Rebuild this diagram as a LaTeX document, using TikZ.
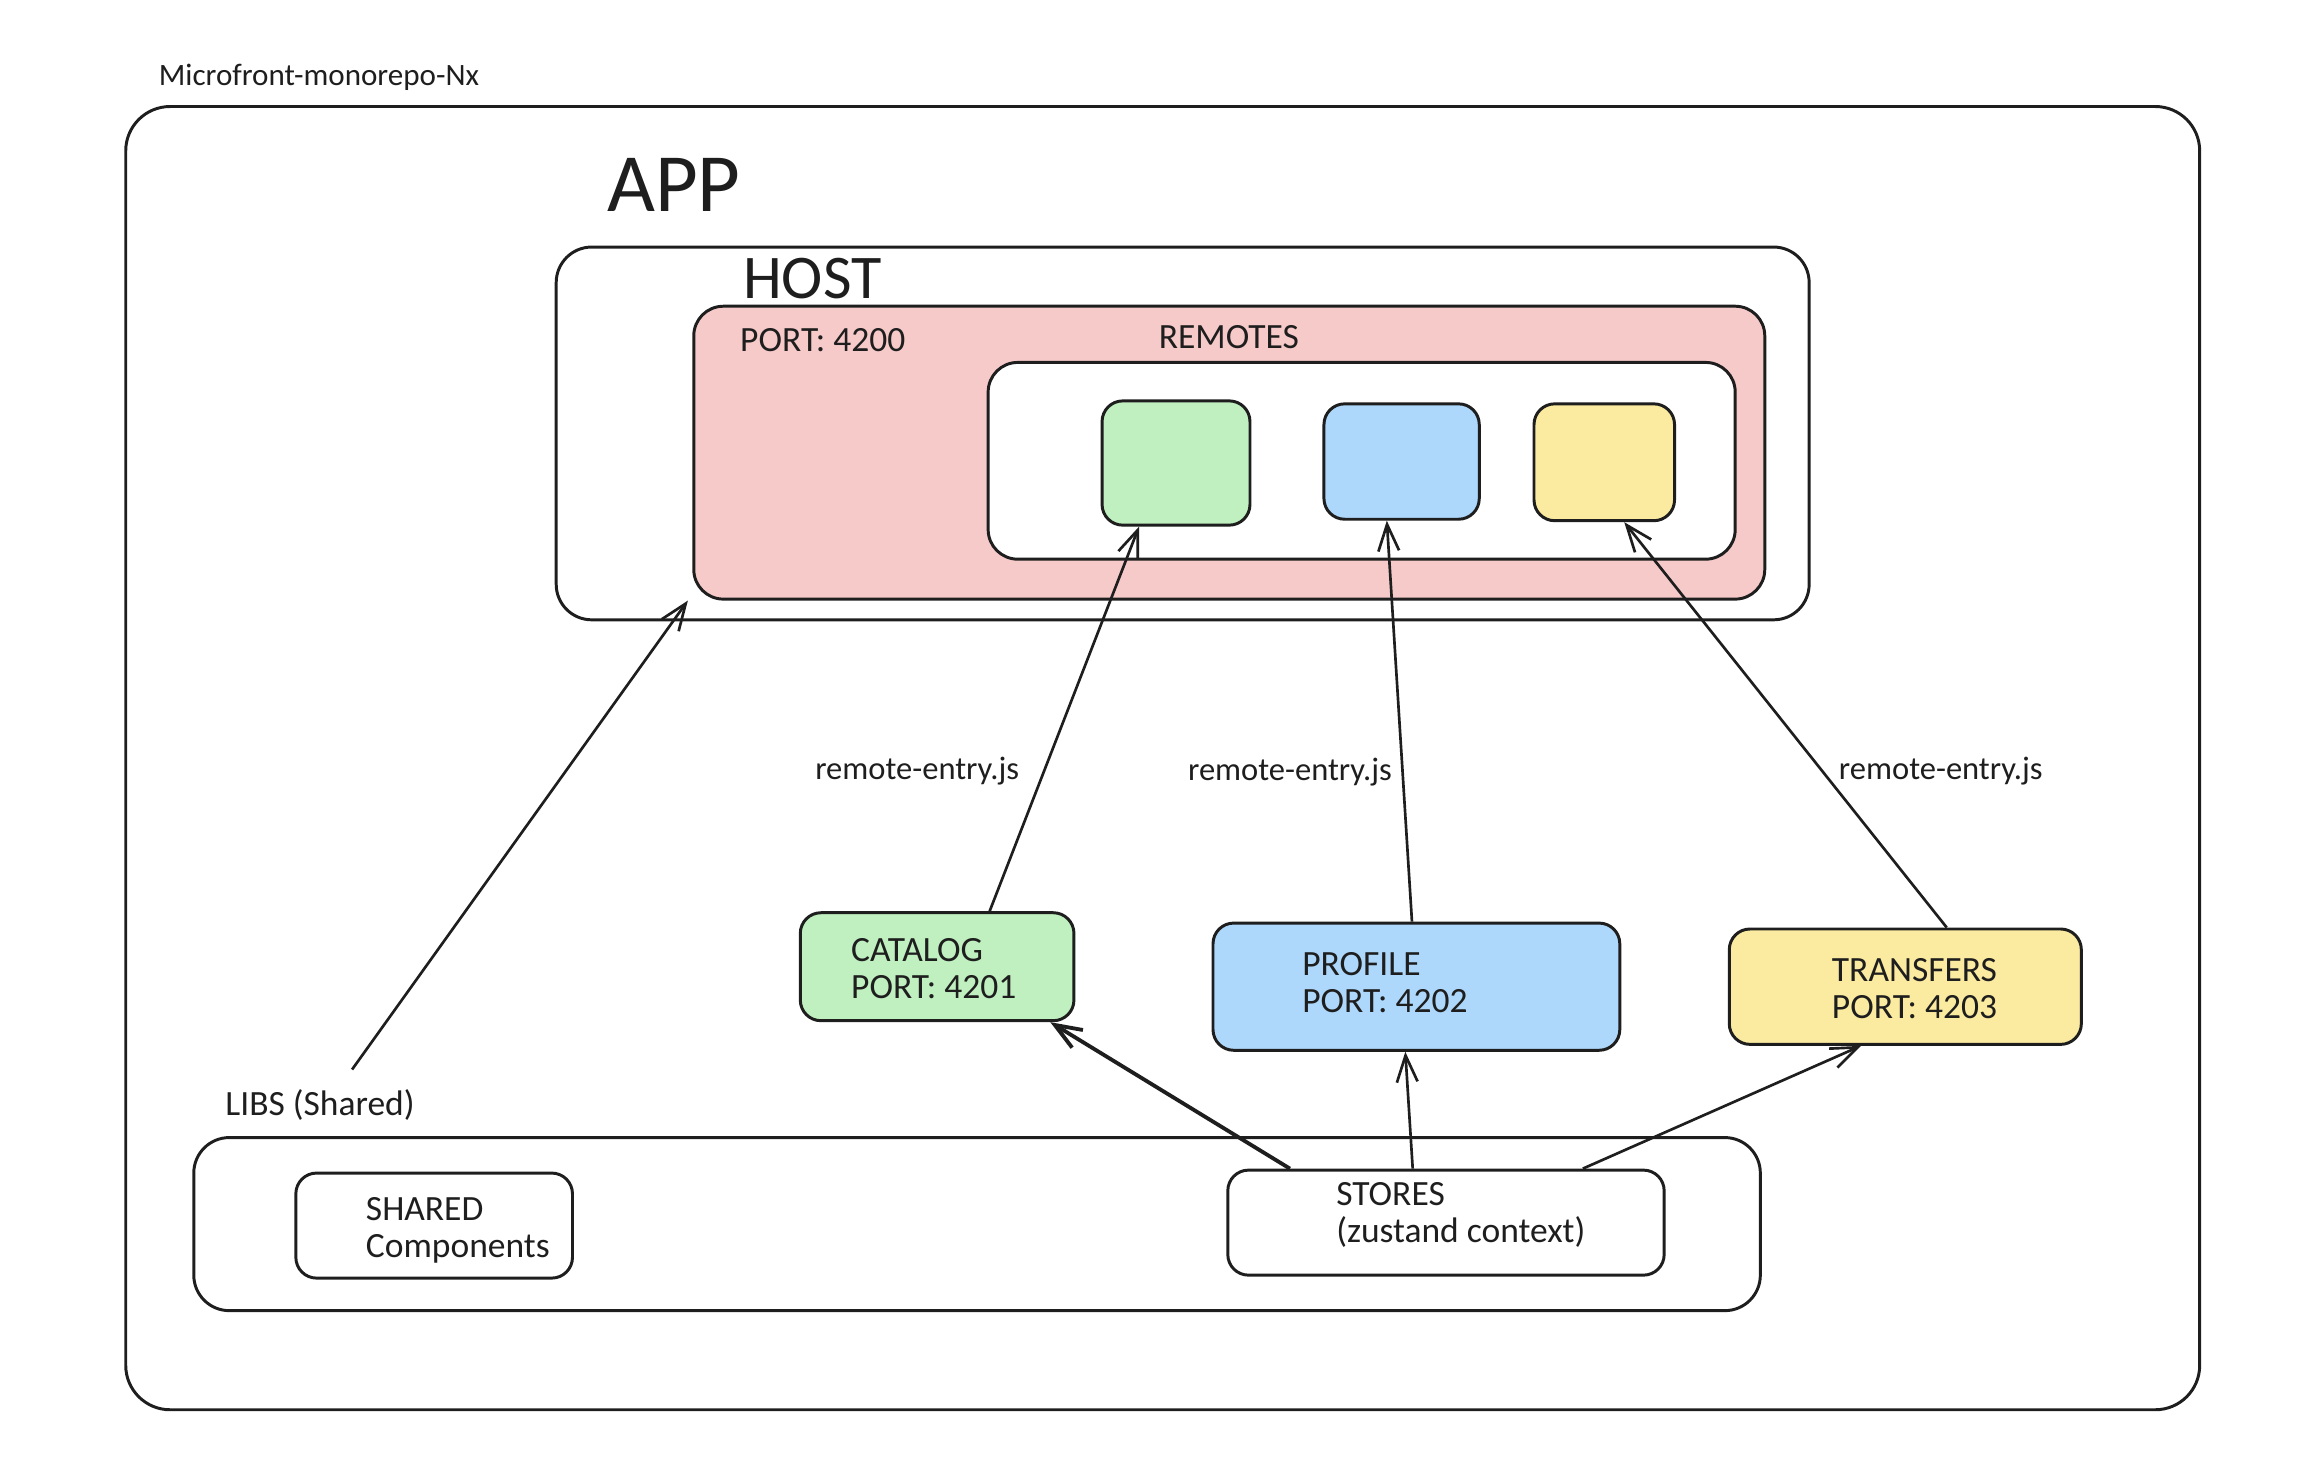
\documentclass[tikz,border=0pt]{standalone}
\usepackage{fontspec}
\setmainfont{Carlito}
\usetikzlibrary{arrows.meta, fit, calc}

\definecolor{tinta}{HTML}{1E1E1E}
\definecolor{rosa}{HTML}{F7CACA}
\definecolor{verde}{HTML}{C0EFC0}
\definecolor{azul}{HTML}{ADD8FB}
\definecolor{amarillo}{HTML}{FBEBA0}

\begin{document}
\begin{tikzpicture}[x=0.5pt, y=-0.5pt, line join=round,
    caja/.style={draw=tinta, line width=1pt, rounded corners=7pt, inner sep=0pt},
    texto/.style={anchor=west, inner sep=0pt, text=tinta, align=left,
        font=\fontsize{12}{12.5}\selectfont},
    etiqueta/.style={inner sep=0pt, text=tinta, font=\fontsize{11}{13}\selectfont},
    flecha/.style={draw=tinta, line width=0.9pt, -{Straight Barb[length=9pt, width=7pt]}}]
    \useasboundingbox (0,0) rectangle (1567,996);
    % Contenedor general
    \node[texto, font=\fontsize{10.5}{12}\selectfont] (titulo) at (107,52) {Microfront-monorepo-Nx};
    \node[caja, rounded corners=15pt, fit={(85,72) (1487,953)}] (app) {};
    \node[texto, font=\fontsize{28}{30}\selectfont] (apptxt) at (410,125) {APP};
    % Host
    \node[caja, rounded corners=12pt, fit={(376,167) (1223,419)}] (host) {};
    \node[texto, font=\fontsize{21}{24}\selectfont] (hosttxt) at (502,188) {HOST};
    \node[caja, fill=rosa, rounded corners=10pt, fit={(469,207) (1193,405)}] (puerto) {};
    \node[texto] (puertotxt) at (500,230) {PORT: 4200};
    \node[texto] (remotestxt) at (783,228) {REMOTES};
    \node[caja, fill=white, rounded corners=10pt, fit={(668,245) (1173,378)}] (remotes) {};
    \node[caja, fill=verde, fit={(745,271) (845,355)}] (rverde) {};
    \node[caja, fill=azul, fit={(895,273) (1000,351)}] (razul) {};
    \node[caja, fill=amarillo, fit={(1037,273) (1132,352)}] (ramarillo) {};
    % Remotes
    \node[caja, fill=verde, fit={(541,617) (726,690)}] (catalog) {};
    \node[texto] (catalogtxt) at (575,655) {CATALOG\\PORT: 4201};
    \node[caja, fill=azul, fit={(820,624) (1095,710)}] (profile) {};
    \node[texto] (profiletxt) at (880,664) {PROFILE\\PORT: 4202};
    \node[caja, fill=amarillo, fit={(1169,628) (1407,706)}] (transfers) {};
    \node[texto] (transferstxt) at (1238,668) {TRANSFERS\\PORT: 4203};
    % Libs
    \node[texto] (libstxt) at (152,747) {LIBS (Shared)};
    \node[caja, rounded corners=12pt, fit={(131,769) (1190,886)}] (libs) {};
    \node[caja, fit={(200,793) (387,864)}] (shared) {};
    \node[texto] (sharedtxt) at (247,832) {SHARED\\Components};
    \node[caja, fit={(830,791) (1125,862)}] (stores) {};
    \node[texto] (storestxt) at (903,821) {STORES\\(zustand context)};
    % Flechas
    \coordinate (libsfin) at (238,723);
    \draw[flecha] (libsfin) -- ($(puerto.south west)+(-3,0)$);
    \draw[flecha] ($(catalog.north)+(35.5,0)$) -- ($(rverde.south)+(-25,0)$);
    \draw[flecha] ($(profile.north)+(-3,0)$) -- ($(razul.south)+(-10,0)$);
    \draw[flecha] ($(transfers.north)+(28,0)$) -- ($(ramarillo.south)+(13.5,0)$);
    \node[etiqueta] (entrada1) at (620,521) {remote-entry.js};
    \node[etiqueta] (entrada2) at (872,522) {remote-entry.js};
    \node[etiqueta] (entrada3) at (1312,521) {remote-entry.js};
    \draw[flecha, line width=1.3pt] ($(stores.north)+(-105.5,0)$) -- ($(catalog.south)+(76.5,0)$);
    \draw[flecha] ($(stores.north)+(-22.5,0)$) -- ($(profile.south)+(-7.5,0)$);
    \draw[flecha] ($(stores.north)+(92.5,0)$) -- ($(transfers.south)+(-30,0)$);
\end{tikzpicture}
\end{document}
